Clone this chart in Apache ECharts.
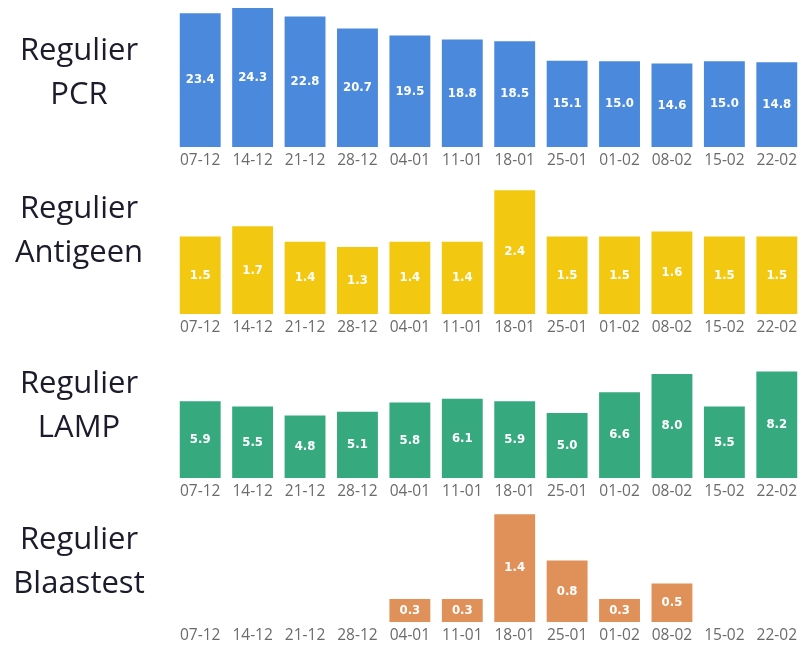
<!DOCTYPE html>
<html>
<head>
<meta charset="utf-8">
<script src="https://cdn.jsdelivr.net/npm/echarts@6/dist/echarts.min.js"></script>
<style>
  html, body { margin: 0; padding: 0; background: #fff; }
  #main { width: 805px; height: 649px; }
</style>
</head>
<body>
<div id="main"></div>
<script>
var weeks = ['07-12', '14-12', '21-12', '28-12', '04-01', '11-01', '18-01', '25-01', '01-02', '08-02', '15-02', '22-02'];

var pcr = [23.4, 24.3, 22.8, 20.7, 19.5, 18.8, 18.5, 15.1, 15.0, 14.6, 15.0, 14.8];
var antigeen = [1.5, 1.7, 1.4, 1.3, 1.4, 1.4, 2.4, 1.5, 1.5, 1.6, 1.5, 1.5];
var lamp = [5.9, 5.5, 4.8, 5.1, 5.8, 6.1, 5.9, 5.0, 6.6, 8.0, 5.5, 8.2];
var blaastest = [null, null, null, null, 0.3, 0.3, 1.4, 0.8, 0.3, 0.5, null, null];

var panelNames = ['PCR', 'Antigeen', 'LAMP', 'Blaastest'];

// per panel layout: grid top, height and y max, bar colour, title y
var panels = [
    { data: pcr,       top: 4,     height: 143,   max: 25,  color: '#4a89dc', ty: 73 },
    { data: antigeen,  top: 185,   height: 129,   max: 2.5, color: '#f2c811', ty: 231 },
    { data: lamp,      top: 361,   height: 117,   max: 9,   color: '#37a97f', ty: 406 },
    { data: blaastest, top: 506.5, height: 115.5, max: 1.5, color: '#e0915a', ty: 562 }
];

var chart = echarts.init(document.getElementById('main'));

var grids = [], xAxes = [], yAxes = [], series = [], graphics = [];

for (var i = 0; i < panels.length; i++) {
    var p = panels[i];
    grids.push({ left: 174, right: 2, top: p.top, height: p.height });
    xAxes.push({
        type: 'category',
        gridIndex: i,
        data: weeks,
        axisLine: { show: false },
        axisTick: { show: false },
        axisLabel: { interval: 0, color: '#6b6b6b', fontSize: 15.5, margin: 6, fontFamily: 'Open Sans' }
    });
    yAxes.push({
        type: 'value',
        gridIndex: i,
        min: 0,
        max: p.max,
        show: false,
        splitLine: { show: false }
    });
    series.push({
        type: 'bar',
        xAxisIndex: i,
        yAxisIndex: i,
        data: p.data,
        barWidth: '78%',
        itemStyle: { color: p.color },
        label: {
            show: true,
            position: 'inside',
            color: '#fff',
            fontWeight: 'bold',
            fontSize: 13,
            fontFamily: 'DejaVu Sans Condensed',
            formatter: function (d) { return d.value.toFixed(1); }
        }
    });
    graphics.push({
        type: 'text',
        x: 79,
        y: p.ty,
        style: {
            text: 'Regulier\n' + panelNames[i],
            textAlign: 'center',
            textVerticalAlign: 'middle',
            fill: '#1b1b2b',
            fontSize: 31,
            lineHeight: 44,
            fontFamily: 'Open Sans'
        }
    });
}

chart.setOption({
    animation: false,
    grid: grids,
    xAxis: xAxes,
    yAxis: yAxes,
    series: series,
    graphic: graphics
});
</script>
</body>
</html>
